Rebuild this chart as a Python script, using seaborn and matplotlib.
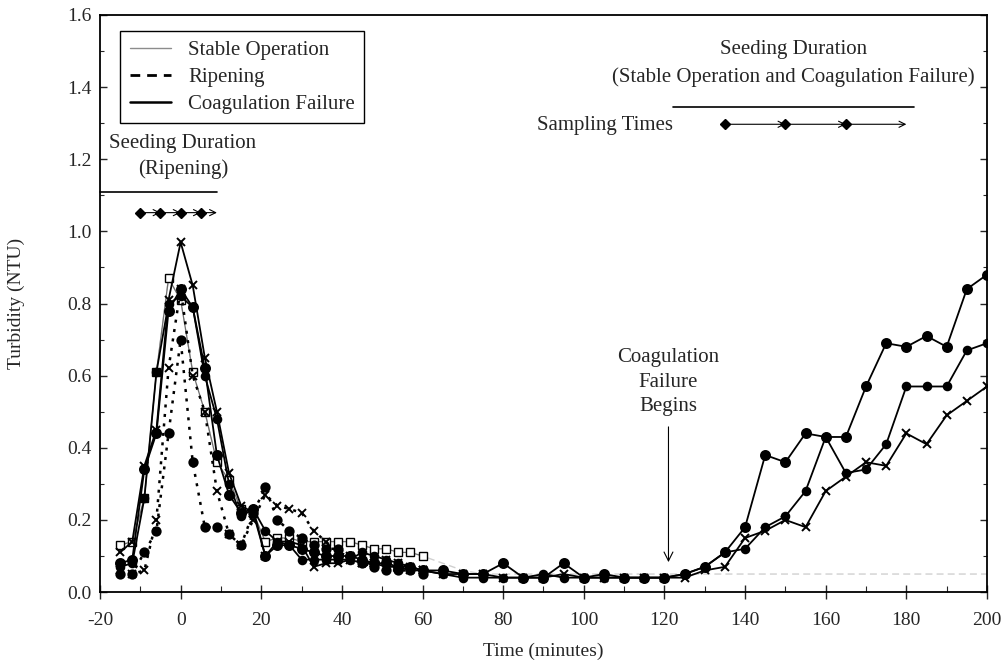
import numpy as np
import pandas as pd
import matplotlib
matplotlib.use("Agg")
import matplotlib.pyplot as plt
from matplotlib.lines import Line2D
from matplotlib.ticker import MultipleLocator, FormatStrFormatter
import seaborn as sns

# ---------------- data ----------------
# sampling grid: every 3 min up to 60 min, then every 5 min
t_early = list(range(-15, 61, 3))
t_late = list(range(65, 201, 5))
t_full = t_early + t_late

stable_op = [0.13, 0.14, 0.26, 0.61, 0.87, 0.81, 0.61, 0.50, 0.36, 0.31, 0.23, 0.22, 0.14,
             0.15, 0.15, 0.14, 0.14, 0.14, 0.14, 0.14, 0.13, 0.12, 0.12, 0.11, 0.11, 0.10,
             0.08, 0.06, 0.05, 0.05, 0.05, 0.05, 0.05, 0.05, 0.05, 0.05, 0.05, 0.05, 0.05,
             0.05, 0.05, 0.05, 0.05, 0.05, 0.05, 0.05, 0.05, 0.05, 0.05, 0.05, 0.05, 0.05,
             0.05, 0.05]

ripening_a = [0.05, 0.05, 0.11, 0.17, 0.44, 0.70, 0.36, 0.18, 0.18, 0.16, 0.13, 0.22, 0.29,
              0.20, 0.17, 0.15, 0.13, 0.12, 0.12, 0.10, 0.08, 0.07, 0.06, 0.06, 0.06, 0.05]
ripening_b = [0.06, 0.05, 0.06, 0.20, 0.62, 0.84, 0.60, 0.50, 0.28, 0.16, 0.13, 0.20, 0.27,
              0.24, 0.23, 0.22, 0.17, 0.14, 0.11, 0.10, 0.08, 0.08, 0.09, 0.08, 0.07, 0.06]

coag_a = [0.08, 0.09, 0.34, 0.44, 0.78, 0.84, 0.79, 0.62, 0.38, 0.27, 0.22, 0.23, 0.10,
          0.13, 0.13, 0.12, 0.11, 0.10, 0.10, 0.10, 0.09, 0.08, 0.08, 0.07, 0.07, 0.06,
          0.06, 0.05, 0.05, 0.08, 0.04, 0.04, 0.08, 0.04, 0.05, 0.04, 0.04, 0.04, 0.05,
          0.07, 0.11, 0.18, 0.38, 0.36, 0.44, 0.43, 0.43, 0.57, 0.69, 0.68, 0.71, 0.68,
          0.84, 0.88]
coag_b = [0.07, 0.08, 0.26, 0.61, 0.80, 0.82, 0.79, 0.60, 0.48, 0.30, 0.21, 0.23, 0.17,
          0.14, 0.13, 0.09, 0.09, 0.09, 0.09, 0.09, 0.11, 0.10, 0.09, 0.08, 0.07, 0.06,
          0.05, 0.04, 0.04, 0.04, 0.04, 0.05, 0.04, 0.04, 0.04, 0.04, 0.04, 0.04, 0.05,
          0.07, 0.11, 0.12, 0.18, 0.21, 0.28, 0.43, 0.33, 0.34, 0.41, 0.57, 0.57, 0.57,
          0.67, 0.69]
coag_c = [0.11, 0.14, 0.35, 0.45, 0.81, 0.97, 0.85, 0.65, 0.50, 0.33, 0.24, 0.22, 0.10,
          0.14, 0.14, 0.13, 0.07, 0.08, 0.08, 0.09, 0.08, 0.08, 0.07, 0.07, 0.06, 0.06,
          0.05, 0.05, 0.05, 0.04, 0.04, 0.04, 0.05, 0.04, 0.04, 0.04, 0.04, 0.04, 0.04,
          0.06, 0.07, 0.15, 0.17, 0.20, 0.18, 0.28, 0.32, 0.36, 0.35, 0.44, 0.41, 0.49,
          0.53, 0.57]

# seeding windows and sampling times
seed_rip = [-20, 9]
samp_rip = [-10, -5, 0, 5]
samp_rip_end = 9
seed_coag = [122, 182]
samp_coag = [135, 150, 165]
samp_coag_end = 180
failure_time = 121

x_ticks = list(range(-20, 201, 20))
y_ticks = [0.0, 0.2, 0.4, 0.6, 0.8, 1.0, 1.2, 1.4, 1.6]

# ---------------- style ----------------
sns.set_style("ticks")
plt.rcParams["font.family"] = ["Liberation Serif", "DejaVu Serif"]
plt.rcParams["font.size"] = 15
plt.rcParams["axes.unicode_minus"] = False

fig = plt.figure(figsize=(10.06, 6.66), dpi=100)
ax = fig.add_axes([0.0994, 0.111, 0.8817, 0.8665])

n_early = len(t_early)

# stable operation: thin gray line, open squares during the first hour
sns.lineplot(x=t_full, y=stable_op, ax=ax, color="#d0d0d0", lw=1.0, legend=False,
             estimator=None, sort=False, linestyle=(0, (5, 3)))
sns.lineplot(x=t_early, y=stable_op[:n_early], ax=ax, color="#6e6e6e", lw=0.9,
             marker="s", markersize=5.5, markerfacecolor="white", markeredgecolor="black",
             markeredgewidth=1.0, legend=False, estimator=None, sort=False)

# ripening runs: dotted
for vals, mk in [(ripening_a, "o"), (ripening_b, "x")]:
    sns.lineplot(x=t_early, y=vals, ax=ax, color="black", lw=1.8,
                 linestyle=(0, (1.2, 2.6)), marker=mk, markersize=6,
                 markeredgewidth=1.4, markerfacecolor="black", markeredgecolor="black",
                 legend=False, estimator=None, sort=False)

# coagulation failure runs: solid
for vals, mk, ms in [(coag_a, "o", 6.5), (coag_b, "o", 5.5), (coag_c, "x", 5.5)]:
    sns.lineplot(x=t_full, y=vals, ax=ax, color="black", lw=1.3, marker=mk,
                 markersize=ms, markeredgewidth=1.4, markerfacecolor="black",
                 markeredgecolor="black", legend=False, estimator=None, sort=False)

# ---------------- annotations ----------------
arrow_kw = dict(arrowstyle="->", lw=0.8, color="black", shrinkA=0, shrinkB=0,
                mutation_scale=11)

# ripening seeding window
ax.plot(seed_rip, [1.11, 1.11], color="black", lw=1.2, clip_on=False)
ax.text(0.6, 1.245, "Seeding Duration", ha="center", va="center")
ax.text(0.6, 1.172, "(Ripening)", ha="center", va="center")
rip_pts = samp_rip + [samp_rip_end]
for a, b in zip(rip_pts[:-1], rip_pts[1:]):
    ax.annotate("", xy=(b, 1.052), xytext=(a, 1.052), arrowprops=arrow_kw)
ax.plot(samp_rip, [1.052] * len(samp_rip), "D", color="black", markersize=5)

# stable / coagulation failure seeding window
ax.plot(seed_coag, [1.345, 1.345], color="black", lw=1.2)
ax.text(152, 1.503, "Seeding Duration", ha="center", va="center")
ax.text(152, 1.428, "(Stable Operation and Coagulation Failure)", ha="center", va="center")
ax.text(122, 1.293, "Sampling Times", ha="right", va="center")
coag_pts = samp_coag + [samp_coag_end]
for a, b in zip(coag_pts[:-1], coag_pts[1:]):
    ax.annotate("", xy=(b, 1.297), xytext=(a, 1.297), arrowprops=arrow_kw)
ax.plot(samp_coag, [1.297] * len(samp_coag), "D", color="black", markersize=5)

# start of coagulation failure
ax.text(failure_time, 0.582, "Coagulation\nFailure\nBegins", ha="center", va="center",
        linespacing=1.4)
ax.annotate("", xy=(failure_time, 0.083), xytext=(failure_time, 0.458),
            arrowprops=dict(arrowstyle="->", lw=0.8, color="black", shrinkA=0,
                            shrinkB=0, mutation_scale=16))

# ---------------- axes ----------------
ax.set_xlim(-20, 200)
ax.set_ylim(0, 1.6)
ax.set_xticks(x_ticks)
ax.set_yticks(y_ticks)
ax.xaxis.set_minor_locator(MultipleLocator(10))
ax.yaxis.set_minor_locator(MultipleLocator(0.1))
ax.yaxis.set_major_formatter(FormatStrFormatter("%.1f"))
ax.tick_params(axis="x", which="major", direction="inout", length=10, width=1.0,
               pad=9, labelsize=14, top=False)
ax.tick_params(axis="x", which="minor", direction="in", length=4, width=0.8, top=False)
ax.tick_params(axis="y", which="major", direction="in", length=5, width=1.0,
               labelsize=14, right=True, pad=6)
ax.tick_params(axis="y", which="minor", direction="in", length=3, width=0.8, right=True)
for side in ["left", "right", "top", "bottom"]:
    ax.spines[side].set_visible(True)
    ax.spines[side].set_color("black")
    ax.spines[side].set_linewidth(1.3)
ax.set_xlabel("Time (minutes)", fontsize=14, labelpad=10)
ax.set_ylabel("Turbidity (NTU)", fontsize=14, labelpad=30)

handles = [
    Line2D([], [], color="#8c8c8c", lw=1.0),
    Line2D([], [], color="black", lw=2.0, linestyle=(0, (3.5, 2.5))),
    Line2D([], [], color="black", lw=1.8),
]
leg = ax.legend(handles, ["Stable Operation", "Ripening", "Coagulation Failure"],
                loc="upper left", bbox_to_anchor=(0.011, 0.99), frameon=True,
                fancybox=False, edgecolor="black", framealpha=1, fontsize=15,
                handlelength=2.0, borderpad=0.45, labelspacing=0.35, handletextpad=0.8)
leg.get_frame().set_linewidth(1.0)

fig.savefig("out.png", dpi=100)
